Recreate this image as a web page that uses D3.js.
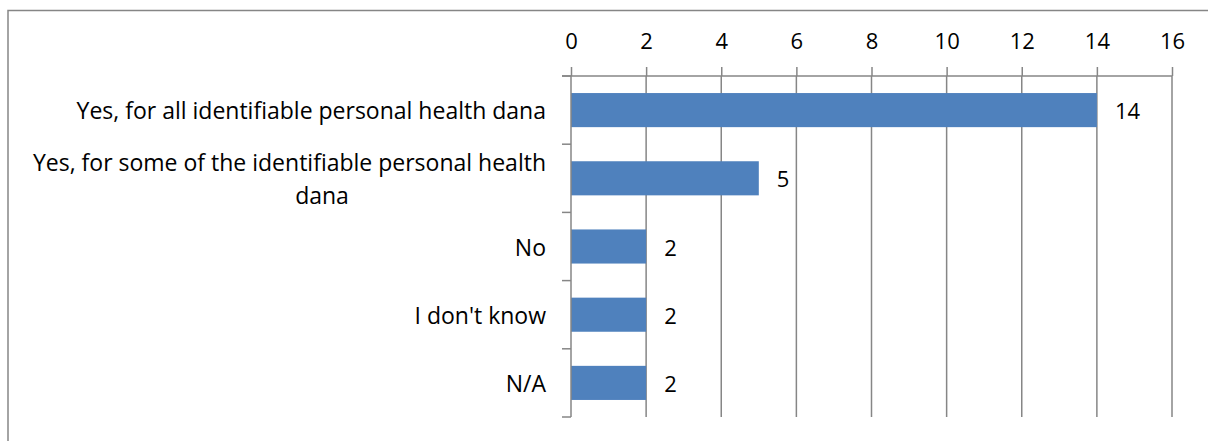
<!DOCTYPE html>
<html>
<head>
<meta charset="utf-8">
<script src="https://cdn.jsdelivr.net/npm/d3@7"></script>
<style>
  html, body { margin: 0; padding: 0; background: #fff; }
  svg { display: block; }
  text { font-family: "Open Sans", "Liberation Sans", sans-serif; fill: #000; }
</style>
</head>
<body>
<svg id="chart" width="1208" height="441"></svg>
<script>
// Responses, top to bottom
const categories = [
  ["Yes, for all identifiable personal health dana"],
  ["Yes, for some of the identifiable personal health", "dana"],
  ["No"],
  ["I don't know"],
  ["N/A"]
];
const values = [14, 5, 2, 2, 2];
const xTicks = [0, 2, 4, 6, 8, 10, 12, 14, 16];

const svg = d3.select("#chart");
const W = 1208, H = 441;
const plot = { left: 571, right: 1172, top: 76, bottom: 417 };
const gridColor = "#868686";
const labelFont = 23, numFont = 22;

// Outer frame
svg.append("rect")
  .attr("x", 8).attr("y", 10.5)
  .attr("width", W + 20).attr("height", H + 20)
  .attr("fill", "none").attr("stroke", gridColor).attr("stroke-width", 1.5);

const x = d3.scaleLinear().domain([0, 16]).range([plot.left, plot.right]);
const y = d3.scaleBand().domain(d3.range(categories.length))
  .range([plot.top, plot.bottom]).paddingInner(0.5).paddingOuter(0.25);

// Vertical gridlines
svg.append("g").selectAll("line").data(xTicks.slice(1)).join("line")
  .attr("x1", d => x(d)).attr("x2", d => x(d))
  .attr("y1", plot.top).attr("y2", plot.bottom)
  .attr("stroke", gridColor).attr("stroke-width", 1.5);

// Top value axis
const xAxis = svg.append("g").attr("transform", `translate(0,${plot.top})`)
  .call(d3.axisTop(x).tickValues(xTicks).tickSize(9).tickPadding(18).tickSizeOuter(0));
xAxis.select(".domain").attr("stroke", gridColor).attr("stroke-width", 1.5)
  .attr("d", `M${plot.left - 9},0H${plot.right}`);
xAxis.selectAll(".tick line").attr("stroke", gridColor).attr("stroke-width", 1.5);
xAxis.selectAll(".tick text")
  .style("font-family", "'Open Sans', 'Liberation Sans', sans-serif")
  .attr("font-size", numFont).attr("fill", "#000");

// Bars
svg.append("g").selectAll("rect").data(values).join("rect")
  .attr("x", x(0))
  .attr("y", (d, i) => y(i))
  .attr("width", d => x(d) - x(0))
  .attr("height", y.bandwidth())
  .attr("fill", "#4f81bd");

// Left category axis with ticks at band boundaries
const bounds = d3.range(categories.length + 1).map(i => plot.top + i * (plot.bottom - plot.top) / categories.length);
const yAxis = svg.append("g");
yAxis.append("line")
  .attr("x1", plot.left).attr("x2", plot.left)
  .attr("y1", plot.top).attr("y2", plot.bottom)
  .attr("stroke", gridColor).attr("stroke-width", 1.5);
yAxis.selectAll("line.tk").data(bounds).join("line").attr("class", "tk")
  .attr("x1", plot.left - 9).attr("x2", plot.left)
  .attr("y1", d => d).attr("y2", d => d)
  .attr("stroke", gridColor).attr("stroke-width", 1.5);

// Category labels
const labelX = 546, lineGap = 33;
const lab = svg.append("g").selectAll("text").data(categories).join("text")
  .attr("font-size", labelFont)
  .attr("dominant-baseline", "central");
lab.each(function(lines, i) {
  const cy = y(i) + y.bandwidth() / 2;
  const t = d3.select(this);
  if (lines.length === 1) {
    t.attr("x", labelX).attr("y", cy).attr("text-anchor", "end").text(lines[0]);
  } else {
    t.append("tspan").attr("text-anchor", "end").attr("x", labelX)
      .attr("y", cy - lineGap / 2).text(lines[0]);
    t.append("tspan").attr("text-anchor", "middle").attr("x", labelX - 224)
      .attr("y", cy + lineGap / 2).text(lines[1]);
  }
});

// Value labels
svg.append("g").selectAll("text").data(values).join("text")
  .attr("x", d => x(d) + 18)
  .attr("y", (d, i) => y(i) + y.bandwidth() / 2)
  .attr("dominant-baseline", "central")
  .attr("font-size", numFont)
  .text(d => d);
</script>
</body>
</html>
